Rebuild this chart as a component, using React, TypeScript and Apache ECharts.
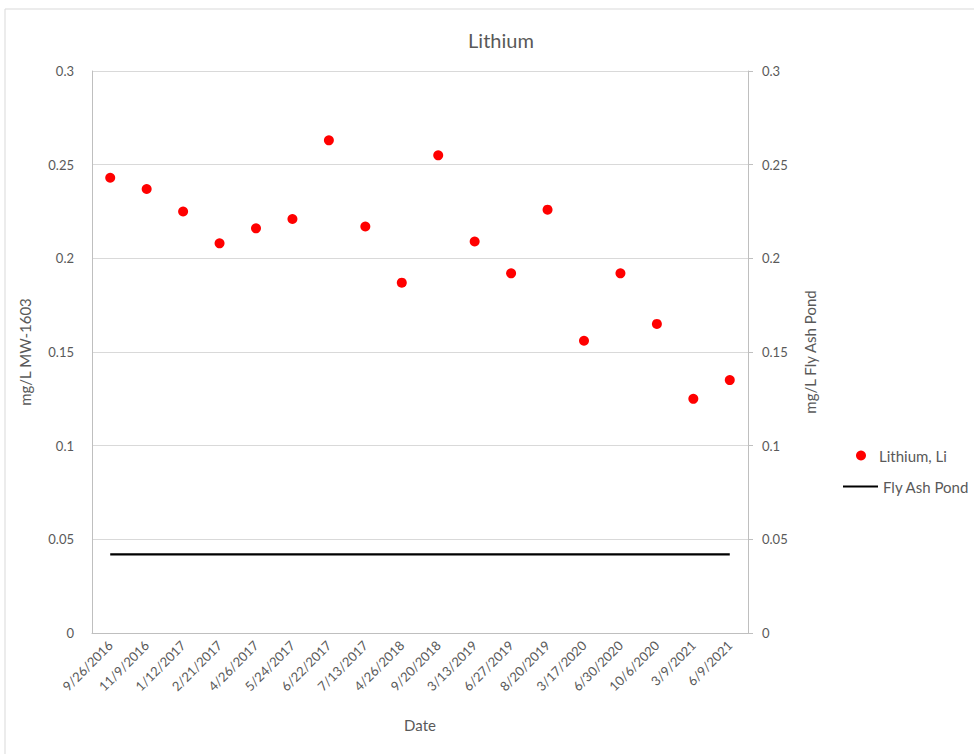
import React, { useEffect, useRef } from "react";
import * as echarts from "echarts";

const dates = [
  "9/26/2016", "11/9/2016", "1/12/2017", "2/21/2017", "4/26/2017", "5/24/2017",
  "6/22/2017", "7/13/2017", "4/26/2018", "9/20/2018", "3/13/2019", "6/27/2019",
  "8/20/2019", "3/17/2020", "6/30/2020", "10/6/2020", "3/9/2021", "6/9/2021",
];
const lithium = [
  0.243, 0.237, 0.225, 0.208, 0.216, 0.221, 0.263, 0.217, 0.187, 0.255, 0.209,
  0.192, 0.226, 0.156, 0.192, 0.165, 0.125, 0.135,
];
const flyAshPond = [
  0.042, 0.042, 0.042, 0.042, 0.042, 0.042, 0.042, 0.042, 0.042, 0.042, 0.042,
  0.042, 0.042, 0.042, 0.042, 0.042, 0.042, 0.042,
];
const yTicks = [0, 0.05, 0.1, 0.15, 0.2, 0.25, 0.3];

const FONT = "Lato, 'Noto Sans', sans-serif";
const GREY = "#595959";

export default function App() {
  const ref = useRef<HTMLDivElement>(null);
  useEffect(() => {
    if (!ref.current) return;
    const chart = echarts.init(ref.current, undefined, { renderer: "svg" });
    const yLabel = (v: number) => (yTicks.includes(v) ? String(v) : "");
    const legendText = { fontFamily: FONT, fontSize: 15, color: GREY };
    chart.setOption({
      animation: false,
      backgroundColor: "#ffffff",
      textStyle: { fontFamily: FONT },
      title: {
        text: "Lithium",
        left: 496,
        top: 25,
        textAlign: "center",
        textStyle: { fontFamily: FONT, fontSize: 20, fontWeight: "normal", color: GREY },
      },
      graphic: [
        {
          type: "rect",
          shape: { x: 5, y: 9, width: 980, height: 760 },
          style: { fill: "none", stroke: "#d9d9d9", lineWidth: 1 },
          silent: true,
        },
      ],
      legend: [
        {
          orient: "vertical",
          left: 851,
          top: 443,
          itemWidth: 26,
          itemHeight: 10,
          itemGap: 5,
          textStyle: legendText,
          data: [{ name: "Lithium, Li", icon: "circle" }],
        },
        {
          orient: "vertical",
          left: 838,
          top: 474,
          itemWidth: 35,
          itemHeight: 2,
          itemGap: 4,
          textStyle: legendText,
          data: [{ name: "Fly Ash Pond", icon: "rect" }],
        },
      ],
      grid: { left: 92, right: 226, top: 71, bottom: 121, containLabel: false },
      xAxis: {
        type: "category",
        data: dates,
        boundaryGap: true,
        name: "Date",
        nameLocation: "middle",
        nameGap: 84,
        nameTextStyle: { fontFamily: FONT, fontSize: 15, color: GREY },
        axisLine: { lineStyle: { color: "#bfbfbf" } },
        axisTick: { show: false },
        axisLabel: { rotate: 45, fontSize: 13, color: GREY, margin: 10, interval: 0 },
        splitLine: { show: false },
      },
      yAxis: [
        {
          type: "value",
          min: 0,
          max: 0.3,
          interval: 0.05,
          name: "mg/L MW-1603",
          nameLocation: "middle",
          nameGap: 60,
          nameTextStyle: { fontFamily: FONT, fontSize: 15, color: GREY },
          axisLine: { show: true, lineStyle: { color: "#bfbfbf" } },
          axisTick: { show: false },
          axisLabel: { fontSize: 13, color: GREY, margin: 18, formatter: yLabel },
          splitLine: { lineStyle: { color: "#d9d9d9" } },
        },
        {
          type: "value",
          min: 0,
          max: 0.3,
          interval: 0.05,
          position: "right",
          name: "mg/L Fly Ash Pond",
          nameLocation: "middle",
          nameGap: 54,
          nameRotate: 90,
          nameTextStyle: { fontFamily: FONT, fontSize: 15, color: GREY },
          axisLine: { show: true, lineStyle: { color: "#bfbfbf" } },
          axisTick: { show: true, length: 5, lineStyle: { color: "#bfbfbf" } },
          axisLabel: { fontSize: 13, color: GREY, margin: 14, formatter: yLabel },
          splitLine: { show: false },
        },
      ],
      series: [
        {
          name: "Lithium, Li",
          type: "scatter",
          data: lithium,
          yAxisIndex: 0,
          symbol: "circle",
          symbolSize: 10,
          itemStyle: { color: "#ff0000", opacity: 1 },
        },
        {
          name: "Fly Ash Pond",
          type: "line",
          data: flyAshPond,
          yAxisIndex: 1,
          symbol: "none",
          showSymbol: false,
          lineStyle: { color: "#000000", width: 2.25 },
          itemStyle: { color: "#000000" },
        },
      ],
    });
    return () => chart.dispose();
  }, []);
  return (
    <div
      ref={ref}
      style={{ position: "fixed", left: 0, top: 0, width: 974, height: 754 }}
    />
  );
}
